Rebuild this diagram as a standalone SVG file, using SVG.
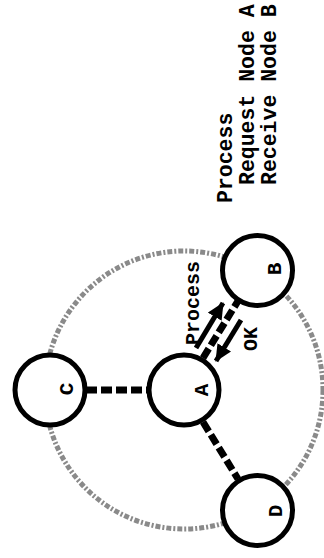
<svg xmlns="http://www.w3.org/2000/svg" width="324" height="558" viewBox="0 0 324 558">
<defs>
<style>
.node{fill:#fff;stroke:#000;stroke-width:5}
.lbl{font-family:"Liberation Mono",monospace;font-weight:bold;fill:#000}
.dash{stroke:#000;stroke-width:7;stroke-dasharray:11 4;fill:none}
.arr{stroke:#000;stroke-width:5;fill:none;marker-end:url(#ah)}
.ring{fill:none;stroke:#8a8a8a;stroke-width:5;stroke-dasharray:5 2 2 2}
</style>
<marker id="ah" markerUnits="userSpaceOnUse" markerWidth="18" markerHeight="16" refX="16" refY="8" orient="auto">
<path d="M0,0 L17,8 L0,16 Z" fill="#000"/>
</marker>
</defs>
<rect width="324" height="558" fill="#fff"/>
<circle class="ring" cx="184" cy="390" r="139"/>
<g id="connectors">
<line class="dash" x1="86" y1="390" x2="147" y2="390"/>
<line class="dash" x1="203" y1="358" x2="238" y2="301"/>
<line class="dash" x1="203" y1="422" x2="238" y2="479"/>
<line class="arr" x1="196" y1="348" x2="223" y2="303"/>
<line class="arr" x1="241" y1="320" x2="216" y2="361"/>
<text class="lbl" font-size="20" text-anchor="middle" transform="translate(199,303) rotate(-90)">Process</text>
<text class="lbl" font-size="20" text-anchor="middle" transform="translate(257,339) rotate(-90)">OK</text>
</g>
<g id="nodeA">
<circle class="node" cx="184" cy="390" r="35"/>
<text class="lbl" font-size="21" text-anchor="middle" transform="translate(208,390) rotate(-90)">A</text>
</g>
<g id="nodeB">
<circle class="node" cx="257.5" cy="270.5" r="35"/>
<text class="lbl" font-size="21" text-anchor="middle" transform="translate(281,269) rotate(-90)">B</text>
</g>
<g id="nodeC">
<circle class="node" cx="50" cy="390" r="35"/>
<text class="lbl" font-size="21" text-anchor="middle" transform="translate(73,389) rotate(-90)">C</text>
</g>
<g id="nodeD">
<circle class="node" cx="257.5" cy="510.5" r="35"/>
<text class="lbl" font-size="21" text-anchor="middle" transform="translate(282,511) rotate(-90)">D</text>
</g>
<g id="legend">
<text class="lbl" font-size="21.5" transform="translate(232,203) rotate(-90)">Process</text>
<text class="lbl" font-size="21.5" transform="translate(254,185) rotate(-90)">Request Node A</text>
<text class="lbl" font-size="21.5" transform="translate(276,185) rotate(-90)">Receive Node B</text>
</g>
</svg>
